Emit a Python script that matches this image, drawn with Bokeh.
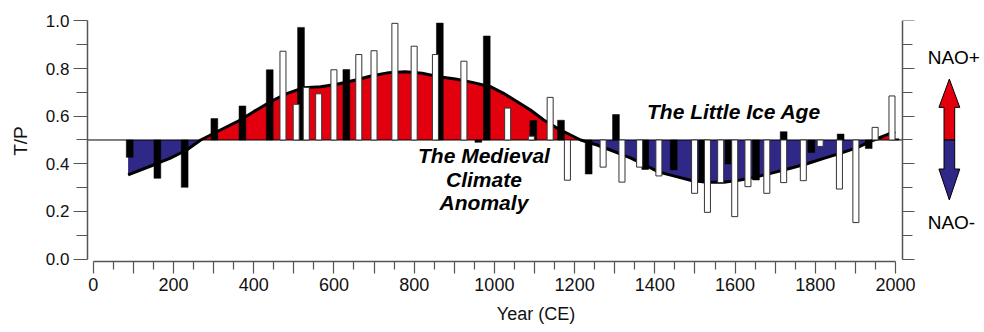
import numpy as np
from bokeh.plotting import figure
from bokeh.models import (ColumnDataSource, Range1d, LinearAxis, FixedTicker,
                          PrintfTickFormatter, Label)
from bokeh.embed import file_html
from bokeh.resources import INLINE

# ---------------- data ----------------
# smoothed NAO reconstruction (T/P ratio)
curve_year = [87, 150, 191, 233, 268, 317, 359, 400, 442, 484, 525, 567, 608, 654,
              695, 737, 778, 820, 861, 903, 945, 990, 1023, 1057, 1090, 1123, 1157,
              1190, 1215, 1256, 1289, 1339, 1375, 1410, 1449, 1491, 1530, 1572, 1613,
              1655, 1696, 1738, 1779, 1821, 1862, 1904, 1946, 1982, 1999]
curve_tp = [0.353, 0.395, 0.423, 0.458, 0.500, 0.542, 0.577, 0.619, 0.661, 0.696,
            0.720, 0.724, 0.734, 0.752, 0.770, 0.783, 0.787, 0.780, 0.766, 0.756,
            0.742, 0.724, 0.696, 0.661, 0.626, 0.584, 0.549, 0.521, 0.500, 0.479,
            0.458, 0.425, 0.395, 0.365, 0.348, 0.330, 0.322, 0.322, 0.332, 0.346,
            0.363, 0.381, 0.400, 0.423, 0.444, 0.468, 0.500, 0.525, 0.535]

# black bars
black_year = [91, 160, 228, 302, 372, 440, 518, 631, 864, 960, 981, 1097, 1166, 1235,
              1303, 1376, 1447, 1518, 1584, 1652, 1721, 1790, 1863, 1933, 2000]
black_tp = [0.427, 0.339, 0.301, 0.590, 0.643, 0.795, 0.973, 0.796, 0.991, 0.490,
            0.937, 0.582, 0.583, 0.357, 0.607, 0.376, 0.374, 0.325, 0.399, 0.332,
            0.535, 0.447, 0.525, 0.464, 0.505]

# white bars
white_year = [473, 506, 531, 562, 600, 662, 700, 752, 800, 853, 924, 1033, 1092, 1139,
              1182, 1271, 1318, 1362, 1410, 1499, 1531, 1564, 1599, 1632, 1679, 1721,
              1770, 1812, 1860, 1901, 1949, 1991]
white_tp = [0.873, 0.650, 0.721, 0.694, 0.795, 0.859, 0.875, 0.990, 0.894, 0.859,
            0.831, 0.634, 0.516, 0.679, 0.331, 0.386, 0.323, 0.386, 0.349, 0.276,
            0.196, 0.321, 0.178, 0.304, 0.276, 0.321, 0.329, 0.473, 0.294, 0.153,
            0.553, 0.685]

baseline = 0.5
y_ticks = [0.0, 0.2, 0.4, 0.6, 0.8, 1.0]
y_minor = [0.1, 0.3, 0.5, 0.7, 0.9]
x_ticks = list(range(0, 2001, 100))
x_minor = list(range(50, 2000, 100))
x_labelled = list(range(0, 2001, 200))

RED = "#E2000F"
BLUE = "#2F2886"
AXC = "#555555"

X_START, X_AXIS_END, X_END = -14.2, 2016.7, 2221.6

# ---------------- figure ----------------
p = figure(width=984, height=332, output_backend="svg", toolbar_location=None,
           x_range=Range1d(X_START, X_END), y_range=Range1d(-0.0105, 1.002),
           x_axis_location=None, y_axis_location=None,
           min_border_left=87, min_border_right=0, min_border_top=20,
           min_border_bottom=71)
p.outline_line_color = None
p.background_fill_color = "white"
p.border_fill_color = "white"
for g in p.grid:
    g.visible = False

cy = np.array(curve_tp)
src_c = ColumnDataSource(dict(x=curve_year, y=cy,
                              up=np.maximum(cy, baseline), dn=np.minimum(cy, baseline)))
p.varea(x="x", y1=baseline, y2="up", source=src_c, fill_color=RED)
p.varea(x="x", y1=baseline, y2="dn", source=src_c, fill_color=BLUE)
p.line(x="x", y="y", source=src_c, line_color="black", line_width=3)

# reference line T/P = 0.5 between the two vertical axes
p.segment(x0=[X_START], x1=[X_AXIS_END], y0=[baseline], y1=[baseline],
          line_color="black", line_width=1)

p.vbar(x=black_year, top=black_tp, bottom=baseline, width=17,
       fill_color="black", line_color="black", line_width=0.5)
p.vbar(x=white_year, top=white_tp, bottom=baseline, width=15,
       fill_color="white", line_color="#333333", line_width=1)

# ---------------- axes ----------------
ly = LinearAxis(ticker=FixedTicker(ticks=y_ticks, minor_ticks=y_minor),
                formatter=PrintfTickFormatter(format="%.1f"), bounds=(0, 1),
                axis_label="T/P")
ry = LinearAxis(ticker=FixedTicker(ticks=y_ticks, minor_ticks=y_minor), bounds=(0, 1),
                fixed_location=X_AXIS_END)
bx = LinearAxis(ticker=FixedTicker(ticks=x_ticks, minor_ticks=x_minor), bounds=(0, 2000),
                axis_label="Year (CE)")
bx.major_label_overrides = {t: "" for t in x_ticks if t not in x_labelled}

for ax in (ly, ry, bx):
    ax.axis_line_color = AXC
    ax.axis_line_width = 1.5
    ax.major_tick_line_color = AXC
    ax.minor_tick_line_color = AXC
    ax.major_tick_line_width = 1.2
    ax.minor_tick_line_width = 1.2
    ax.major_tick_in = 0
    ax.minor_tick_in = 0
    ax.major_label_text_color = "#111111"
    ax.axis_label_text_color = "#111111"
    ax.axis_label_text_font_style = "normal"

ly.major_tick_out = 14
ly.minor_tick_out = 11
ly.major_label_standoff = 4
ly.major_label_text_font = "Liberation Sans"
ly.major_label_text_font_size = "17px"
ly.axis_label_text_font = "Liberation Sans"
ly.axis_label_text_font_size = "19px"
ly.axis_label_standoff = 12

ry.major_tick_out = 12
ry.minor_tick_out = 10
ry.major_label_text_color = None

bx.major_tick_out = 12
bx.minor_tick_out = 8
bx.major_label_standoff = 4
bx.major_label_text_font = "Liberation Sans"
bx.major_label_text_font_size = "18px"
bx.axis_label_text_font = "Liberation Sans"
bx.axis_label_text_font_size = "18px"
bx.axis_label_standoff = 10

p.add_layout(ly, "left")
p.add_layout(ry, "right")
p.add_layout(bx, "below")

# ---------------- annotations ----------------
tf = dict(text_font="Liberation Sans", text_font_size="21px",
          text_font_style="bold italic", text_color="black")
p.add_layout(Label(x=1597, y=0.57, text="The Little Ice Age", text_align="center", **tf))
for txt, yy in (("The Medieval", 0.385), ("Climate", 0.284), ("Anomaly", 0.19)):
    p.add_layout(Label(x=974, y=yy, text=txt, text_align="center", **tf))

nf = dict(text_font="Liberation Sans", text_font_size="19px", text_color="black",
          text_baseline="middle")
p.add_layout(Label(x=2080, y=0.846, text="NAO+", **nf))
p.add_layout(Label(x=2080, y=0.154, text="NAO-", **nf))

# double arrow (NAO+ / NAO-)
ax0, sw, hw = 2134.0, 13.3, 26.0
top_tip, top_base, bot_base, bot_tip = 0.756, 0.637, 0.378, 0.248
arrow_x = [ax0 - sw, ax0 - sw, ax0 - hw, ax0, ax0 + hw, ax0 + sw, ax0 + sw]
p.patch(x=arrow_x, y=[baseline, top_base, top_base, top_tip, top_base, top_base, baseline],
        fill_color=RED, line_color="black", line_width=1)
p.patch(x=arrow_x, y=[baseline, bot_base, bot_base, bot_tip, bot_base, bot_base, baseline],
        fill_color=BLUE, line_color="black", line_width=1)

open("out.html", "w").write(file_html(p, INLINE))
